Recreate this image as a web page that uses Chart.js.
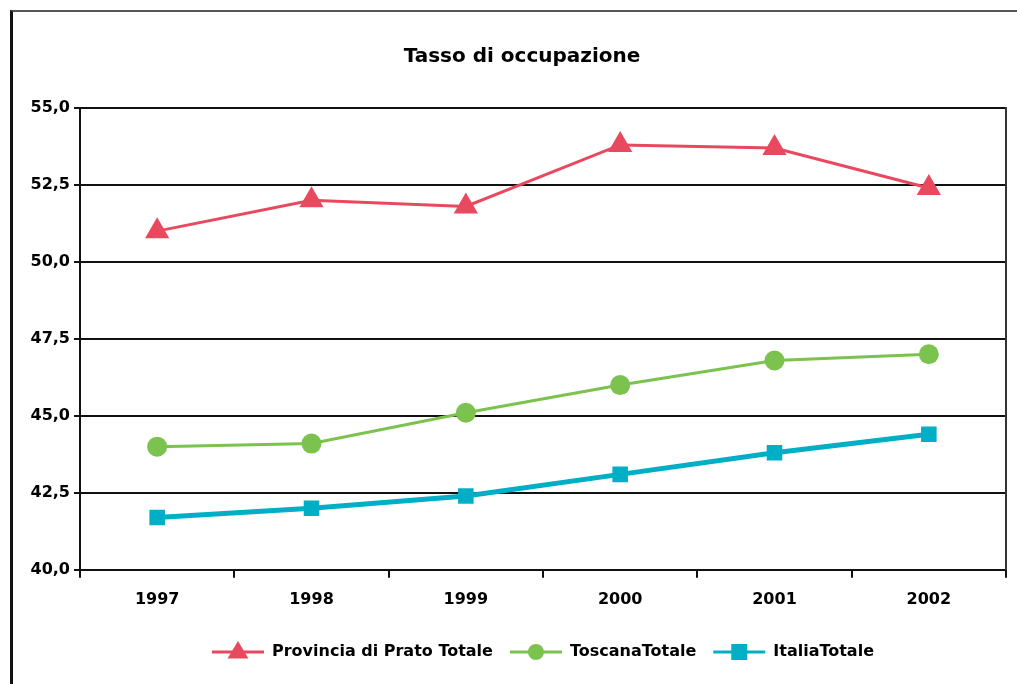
<!DOCTYPE html>
<html>
<head>
<meta charset="utf-8">
<title>Tasso di occupazione</title>
<script src="https://cdn.jsdelivr.net/npm/chart.js@4.4.1/dist/chart.umd.min.js"></script>
<style>
    html, body { margin: 0; padding: 0; background: #fff; }
    #wrap { position: relative; width: 1017px; height: 684px; overflow: hidden; }
    #frame {
        position: absolute; left: 10px; top: 10px; width: 1100px; height: 700px;
        border-left: 3px solid #111; border-top: 2px solid #555;
    }
    #chart { position: absolute; left: 0; top: 0; }
</style>
</head>
<body>
<div id="wrap">
    <div id="frame"></div>
    <canvas id="chart" width="1020" height="684"></canvas>
</div>
<script>
// Dati
const years = ['1997', '1998', '1999', '2000', '2001', '2002'];
const prato = [51.0, 52.0, 51.8, 53.8, 53.7, 52.4];
const toscana = [44.0, 44.1, 45.1, 46.0, 46.8, 47.0];
const italia = [41.7, 42.0, 42.4, 43.1, 43.8, 44.4];
const seriesNames = ['Provincia di Prato Totale', 'ToscanaTotale', 'ItaliaTotale'];
const yTicks = [40, 42.5, 45, 47.5, 50, 52.5, 55];

const FONT = "'DejaVu Sans', Arial, sans-serif";
const RED = '#E8495F';
const GREEN = '#7BC24E';
const CYAN = '#00AFC6';

// Centra legenda e titolo sull'area del grafico (come in Excel)
const centerBoxes = {
    id: 'centerBoxes',
    afterLayout(chart) {
        const area = chart.chartArea;
        const mid = (area.left + area.right) / 2;
        const legend = chart.legend;
        if (legend) {
            const shift = Math.round(mid - (legend.left + legend.right) / 2);
            legend.left += shift;
            legend.right += shift;
            (legend.legendHitBoxes || []).forEach(b => { b.left += shift; });
        }
        const title = chart.titleBlock;
        if (title) {
            const shift = Math.round(mid - 21 - (title.left + title.right) / 2);
            title.left += shift;
            title.right += shift;
        }
    }
};

// Disegna il marker sopra la linea della legenda
const legendMarkers = {
    id: 'legendMarkers',
    afterDraw(chart) {
        const legend = chart.legend;
        if (!legend || !legend.legendHitBoxes) return;
        const ctx = chart.ctx;
        legend.legendHitBoxes.forEach((box, i) => {
            const ds = chart.data.datasets[i];
            const cx = box.left + 26;
            const cy = box.top + box.height / 2;
            ctx.save();
            ctx.fillStyle = ds.borderColor;
            ctx.beginPath();
            if (ds.pointStyle === 'triangle') {
                const r = 11;
                ctx.moveTo(cx, cy - r);
                ctx.lineTo(cx + r * 0.95, cy + r * 0.6);
                ctx.lineTo(cx - r * 0.95, cy + r * 0.6);
                ctx.closePath();
            } else if (ds.pointStyle === 'circle') {
                ctx.arc(cx, cy, 8, 0, Math.PI * 2);
            } else {
                ctx.rect(cx - 8, cy - 8, 16, 16);
            }
            ctx.fill();
            ctx.restore();
        });
    }
};

new Chart(document.getElementById('chart'), {
    type: 'line',
    data: {
        labels: years,
        datasets: [
            {
                label: seriesNames[0], data: prato,
                borderColor: RED, backgroundColor: RED, borderWidth: 3,
                pointStyle: 'triangle', pointRadius: 14, pointBorderWidth: 0
            },
            {
                label: seriesNames[1], data: toscana,
                borderColor: GREEN, backgroundColor: GREEN, borderWidth: 3,
                pointStyle: 'circle', pointRadius: 10, pointBorderWidth: 0
            },
            {
                label: seriesNames[2], data: italia,
                borderColor: CYAN, backgroundColor: CYAN, borderWidth: 5,
                pointStyle: 'rect', pointRadius: 11, pointBorderWidth: 0
            }
        ]
    },
    options: {
        responsive: false,
        animation: false,
        events: [],
        layout: { padding: { left: 0, right: 6, top: 0, bottom: 14 } },
        plugins: {
            title: {
                display: true,
                text: 'Tasso di occupazione',
                color: '#000',
                font: { family: FONT, size: 20, weight: 'bold' },
                padding: { top: 45, bottom: 39 }
            },
            legend: {
                position: 'bottom',
                labels: {
                    color: '#000',
                    font: { family: FONT, size: 16, weight: 'bold' },
                    boxWidth: 52,
                    boxHeight: 3,
                    padding: 17,
                    generateLabels(chart) {
                        return chart.data.datasets.map((ds, i) => ({
                            text: ds.label,
                            fillStyle: ds.borderColor,
                            strokeStyle: ds.borderColor,
                            lineWidth: 0,
                            datasetIndex: i,
                            fontColor: '#000'
                        }));
                    }
                }
            },
            tooltip: { enabled: false }
        },
        scales: {
            x: {
                offset: true,
                afterFit(scale) { scale.height += 6; },
                grid: {
                    offset: true,
                    drawOnChartArea: false,
                    tickColor: '#111',
                    lineWidth: 2,
                    tickLength: 8
                },
                border: { display: true, color: '#111', width: 2 },
                ticks: {
                    color: '#000',
                    padding: 12,
                    maxRotation: 0,
                    font: { family: FONT, size: 16, weight: 'bold' }
                }
            },
            y: {
                min: yTicks[0],
                max: yTicks[yTicks.length - 1],
                afterFit(scale) { scale.width = 80; },
                afterBuildTicks(scale) { scale.ticks = yTicks.map(v => ({ value: v })); },
                grid: {
                    color: '#111',
                    lineWidth: 2,
                    tickLength: 6
                },
                border: { display: true, color: '#111', width: 2 },
                ticks: {
                    color: '#000',
                    padding: 4,
                    font: { family: FONT, size: 16, weight: 'bold' },
                    callback: v => v.toFixed(1).replace('.', ',')
                }
            },
            // solo per il bordo destro dell'area del grafico
            yRight: {
                position: 'right',
                min: yTicks[0],
                max: yTicks[yTicks.length - 1],
                afterFit(scale) { scale.width = 0; },
                grid: { drawOnChartArea: false, drawTicks: false },
                border: { display: true, color: '#333', width: 2 },
                ticks: { display: false }
            }
        }
    },
    plugins: [centerBoxes, legendMarkers]
});
</script>
</body>
</html>
